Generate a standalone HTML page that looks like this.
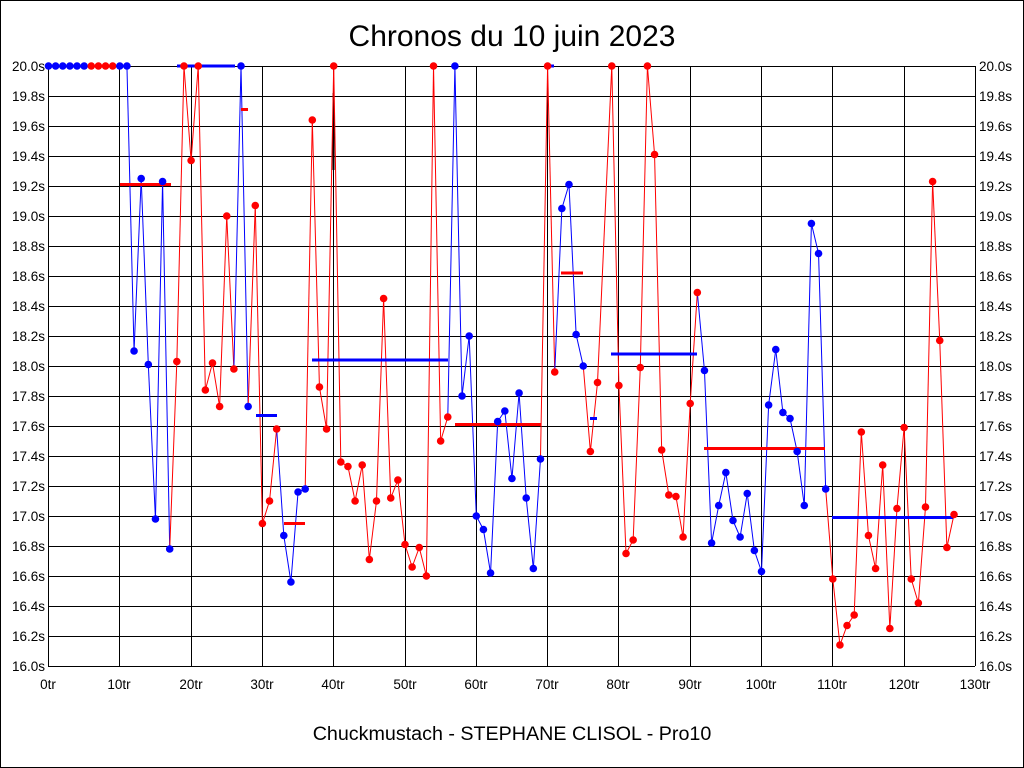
<!DOCTYPE html>
<html><head><meta charset="utf-8"><style>
body{margin:0;background:#fff}
svg{display:block}
text{font-family:"Liberation Sans",sans-serif;fill:#000}
</style></head><body>
<svg id="s" width="1024" height="768" xmlns="http://www.w3.org/2000/svg">
<rect x="0.5" y="0.5" width="1023" height="767" fill="#fff" stroke="#000"/>
<text x="512" y="46" font-size="30" text-anchor="middle">Chronos du 10 juin 2023</text>
<text x="512" y="740" font-size="19.7" text-anchor="middle">Chuckmustach - STEPHANE CLISOL - Pro10</text>
<g font-size="13.5" text-anchor="end">
<text x="45" y="71">20.0s</text><text x="45" y="101">19.8s</text><text x="45" y="131">19.6s</text><text x="45" y="161">19.4s</text><text x="45" y="191">19.2s</text><text x="45" y="221">19.0s</text><text x="45" y="251">18.8s</text><text x="45" y="281">18.6s</text><text x="45" y="311">18.4s</text><text x="45" y="341">18.2s</text><text x="45" y="371">18.0s</text><text x="45" y="401">17.8s</text><text x="45" y="431">17.6s</text><text x="45" y="461">17.4s</text><text x="45" y="491">17.2s</text><text x="45" y="521">17.0s</text><text x="45" y="551">16.8s</text><text x="45" y="581">16.6s</text><text x="45" y="611">16.4s</text><text x="45" y="641">16.2s</text><text x="45" y="671">16.0s</text>
</g>
<g font-size="13.5">
<text x="979" y="71">20.0s</text><text x="979" y="101">19.8s</text><text x="979" y="131">19.6s</text><text x="979" y="161">19.4s</text><text x="979" y="191">19.2s</text><text x="979" y="221">19.0s</text><text x="979" y="251">18.8s</text><text x="979" y="281">18.6s</text><text x="979" y="311">18.4s</text><text x="979" y="341">18.2s</text><text x="979" y="371">18.0s</text><text x="979" y="401">17.8s</text><text x="979" y="431">17.6s</text><text x="979" y="461">17.4s</text><text x="979" y="491">17.2s</text><text x="979" y="521">17.0s</text><text x="979" y="551">16.8s</text><text x="979" y="581">16.6s</text><text x="979" y="611">16.4s</text><text x="979" y="641">16.2s</text><text x="979" y="671">16.0s</text>
</g>
<g font-size="13.5" text-anchor="middle">
<text x="48" y="689">0tr</text><text x="119" y="689">10tr</text><text x="191" y="689">20tr</text><text x="262" y="689">30tr</text><text x="333" y="689">40tr</text><text x="405" y="689">50tr</text><text x="476" y="689">60tr</text><text x="547" y="689">70tr</text><text x="618" y="689">80tr</text><text x="690" y="689">90tr</text><text x="761" y="689">100tr</text><text x="832" y="689">110tr</text><text x="904" y="689">120tr</text><text x="975" y="689">130tr</text>
</g>
<g id="grid" stroke="#000" stroke-width="1"></g>
<g id="data"></g>
</svg>
<script>
var NS="http://www.w3.org/2000/svg";
function el(p,t,a){var e=document.createElementNS(NS,t);for(var k in a)e.setAttribute(k,a[k]);p.appendChild(e);return e;}
var g=document.getElementById("grid"),d=document.getElementById("data");
function X(i){return 48.5+i*7.13;}function Y(v){return 66+(20-v)*150;}
for(var k=0;k<=20;k++){var y=66+k*30+0.5;el(g,"line",{x1:48,x2:975,y1:y,y2:y});}
for(var k=0;k<=13;k++){var x=Math.round(48+k*71.3)+0.5;el(g,"line",{x1:x,x2:x,y1:66,y2:666});}
el(g,"line",{x1:333.5,x2:333.5,y1:93,y2:170,"stroke-width":2});
var B="#0000ff",R="#ff0000";
var pts=[[0,20,B],[1,20,B],[2,20,B],[3,20,B],[4,20,B],[5,20,B],[6,20,R],[7,20,R],[8,20,R],[9,20,R],[10,20,B],[11,20,B],
[12,18.1,B],[13,19.25,B],[14,18.01,B],[15,16.98,B],[16,19.23,B],[17,16.78,B],[18,18.03,R],[19,20,R],[20,19.37,R],[21,20,R],[22,17.84,R],[23,18.02,R],[24,17.73,R],[25,19.0,R],[26,17.98,R],[27,20,B],[28,17.73,B],[29,19.07,R],[30,16.95,R],[31,17.1,R],[32,17.58,R],[33,16.87,B],[34,16.56,B],[35,17.16,B],[36,17.18,B],[37,19.64,R],[38,17.86,R],[39,17.58,R],[40,20,R],[41,17.36,R],[42,17.33,R],[43,17.1,R],[44,17.34,R],[45,16.71,R],[46,17.1,R],[47,18.45,R],[48,17.12,R],[49,17.24,R],[50,16.81,R],[51,16.66,R],[52,16.79,R],[53,16.6,R],[54,20,R],[55,17.5,R],[56,17.66,R],[57,20,B],[58,17.8,B],[59,18.2,B],[60,17.0,B],[61,16.91,B],[62,16.62,B],[63,17.63,B],[64,17.7,B],[65,17.25,B],[66,17.82,B],[67,17.12,B],[68,16.65,B],[69,17.38,B],[70,20,R],[71,17.96,R],[72,19.05,B],[73,19.21,B],[74,18.21,B],[75,18.0,B],[76,17.43,R],[77,17.89,R],[79,20,R],[80,17.87,R],[81,16.75,R],[82,16.84,R],[83,17.99,R],[84,20,R],[85,19.41,R],[86,17.44,R],[87,17.14,R],[88,17.13,R],[89,16.86,R],[90,17.75,R],[91,18.49,R],[92,17.97,B],[93,16.82,B],[94,17.07,B],[95,17.29,B],[96,16.97,B],[97,16.86,B],[98,17.15,B],[99,16.77,B],[100,16.63,B],[101,17.74,B],[102,18.11,B],[103,17.69,B],[104,17.65,B],[105,17.43,B],[106,17.07,B],[107,18.95,B],[108,18.75,B],[109,17.18,B],[110,16.58,R],[111,16.14,R],[112,16.27,R],[113,16.34,R],[114,17.56,R],[115,16.87,R],[116,16.65,R],[117,17.34,R],[118,16.25,R],[119,17.05,R],[120,17.59,R],[121,16.58,R],[122,16.42,R],[123,17.06,R],[124,19.23,R],[125,18.17,R],[126,16.79,R],[127,17.01,R]];
for(var n=1;n<pts.length;n++){var a=pts[n-1],b=pts[n];el(d,"line",{x1:X(a[0]),y1:Y(a[1]),x2:X(b[0]),y2:Y(b[1]),stroke:b[2],"stroke-width":1});}
var bars=[[120,171,19.21,R],[177,235,20,B],[241,248,19.71,R],[256,277,17.67,B],[284,305,16.95,R],[312,448,18.04,B],[455,541,17.61,R],[547,554,20,B],[561,583,18.62,R],[590,597,17.65,B],[611,697,18.08,B],[704,825,17.45,R],[832,953,16.99,B]];
bars.forEach(function(b){el(d,"line",{x1:b[0],x2:b[1],y1:Y(b[2]),y2:Y(b[2]),stroke:b[3],"stroke-width":3});});
pts.forEach(function(p){el(d,"circle",{cx:X(p[0]),cy:Y(p[1]),r:3.8,fill:p[2]});});
</script>
</body></html>
